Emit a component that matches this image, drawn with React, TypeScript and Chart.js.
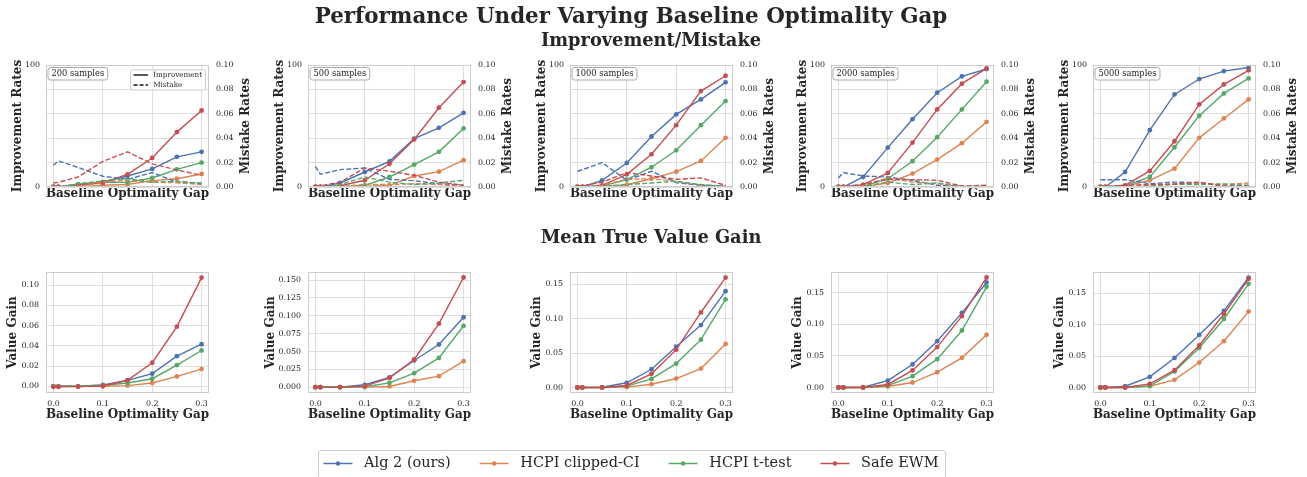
import React, { useEffect, useRef } from 'react';
import { Chart, registerables } from 'chart.js';

Chart.register(...registerables);

const FONT = "'DejaVu Serif', serif";
const INK = '#262626';
const GRID = '#dedede';
const FRAME = '#cccccc';

const figureTitle = 'Performance Under Varying Baseline Optimality Gap';
const topRowTitle = 'Improvement/Mistake';
const bottomRowTitle = 'Mean True Value Gain';
const xTitle = 'Baseline Optimality Gap';

const gaps = [0, 0.01, 0.05, 0.1, 0.15, 0.2, 0.25, 0.3];
const xTicks = [0, 0.1, 0.2, 0.3];
const xRange = [-0.015, 0.315];
const methods = ['Alg 2 (ours)', 'HCPI clipped-CI', 'HCPI t-test', 'Safe EWM'];
const colors = ['#4c72b0', '#dd8452', '#55a868', '#c44e52'];
const sampleLabels = ['200 samples', '500 samples', '1000 samples', '2000 samples', '5000 samples'];

// Improvement rates (%), rows: Alg 2, HCPI clipped-CI, HCPI t-test, Safe EWM
const improve200 = [
  [0, 0, 2, 4, 9, 14.8, 24.7, 28.8],
  [0, 0, 0.3, 1.4, 2, 5.2, 6.8, 10.7],
  [0, 0, 2.2, 4, 3.8, 7.4, 14.5, 20],
  [0, 0, 1.5, 3.5, 10.4, 23.8, 45, 62.7],
];
const improve500 = [
  [0, 0, 3.3, 12.3, 21, 39.7, 48.5, 60.8],
  [0, 0, 0, 0.5, 1.4, 9, 12.6, 22],
  [0, 0, 0.3, 1.4, 8.2, 18.4, 28.8, 48],
  [0, 0, 1, 5.5, 19, 39, 65, 86],
];
const improve1000 = [
  [0, 0, 5.5, 19.7, 41.4, 59.5, 71.8, 85.8],
  [0, 0, 0.3, 1.9, 6.8, 12.6, 21.4, 40.3],
  [0, 0, 0.8, 6, 16.2, 30.1, 50.7, 70.4],
  [0, 0, 1.4, 10.4, 26.8, 50.7, 78.6, 91.2],
];
const improve2000 = [
  [0, 0, 8.2, 32.3, 55.6, 77.3, 90.7, 96.7],
  [0, 0, 0.3, 3.3, 11, 22.5, 35.9, 53.4],
  [0, 0, 0.5, 6.8, 21.1, 40.8, 63.6, 86.3],
  [0, 0, 1.9, 11.5, 36.4, 63.6, 84.7, 97.3],
];
const improve5000 = [
  [0, 0, 12.3, 46.6, 75.9, 88.5, 95, 98],
  [0, 0, 0.5, 5.5, 15, 40.3, 56.2, 71.8],
  [0, 0, 0.8, 8.2, 32.6, 58.4, 76.7, 89],
  [0, 0, 1.4, 13.2, 37.5, 67.7, 84.1, 95.6],
];

// Mistake rates
const mistake200 = [
  [0.0178, 0.0214, 0.016, 0.0088, 0.0063, 0.0118, 0.004, 0.0033],
  [0, 0, 0.0005, 0.004, 0.0055, 0.004, 0.0035, 0.002],
  [0, 0, 0.0027, 0.005, 0.0068, 0.004, 0.0047, 0.0027],
  [0.0033, 0.0038, 0.0082, 0.021, 0.0288, 0.019, 0.014, 0.0096],
];
const mistake500 = [
  [0.017, 0.0104, 0.0142, 0.0156, 0.0063, 0.0052, 0.0027, 0.0014],
  [0, 0, 0.0005, 0.002, 0.002, 0.0027, 0.002, 0.0005],
  [0, 0, 0.002, 0.0082, 0.004, 0.002, 0.0033, 0.0055],
  [0.0008, 0.001, 0.004, 0.0156, 0.0129, 0.0096, 0.004, 0.0014],
];
const mistake1000 = [
  [0.0129, 0.0142, 0.02, 0.0055, 0.0129, 0.0036, 0.0014, 0.0008],
  [0, 0, 0.0014, 0.0063, 0.0068, 0.0047, 0.0014, 0.0005],
  [0, 0, 0.0005, 0.002, 0.0033, 0.0047, 0.002, 0.0005],
  [0.0005, 0.001, 0.004, 0.0118, 0.009, 0.0063, 0.0074, 0.0014],
];
const mistake2000 = [
  [0.0074, 0.0118, 0.009, 0.0082, 0.0055, 0.0014, 0.0005, 0.0005],
  [0, 0, 0.0014, 0.0074, 0.004, 0.0027, 0.0005, 0.0005],
  [0, 0, 0.0005, 0.004, 0.002, 0.0033, 0.0005, 0.0005],
  [0.0005, 0.0005, 0.002, 0.0063, 0.006, 0.0055, 0.0008, 0.0014],
];
const mistake5000 = [
  [0.006, 0.006, 0.006, 0.0027, 0.004, 0.0036, 0.0008, 0.0005],
  [0, 0, 0, 0.0014, 0.0027, 0.0027, 0.002, 0.0033],
  [0, 0, 0, 0.0008, 0.0022, 0.002, 0.0025, 0.0014],
  [0.0005, 0.0005, 0.0014, 0.002, 0.0022, 0.004, 0.0008, 0.0008],
];

// Mean true value gain
const gain200 = [
  [0, 0, 0, 0.0013, 0.0059, 0.0125, 0.0298, 0.0416],
  [0, 0, 0, 0, 0.0007, 0.0033, 0.0098, 0.017],
  [0, 0, 0, 0.001, 0.0033, 0.0075, 0.021, 0.0354],
  [-0.0005, -0.0005, -0.0003, 0.0003, 0.006, 0.0233, 0.059, 0.1075],
];
const gain500 = [
  [0, 0, 0, 0.0033, 0.0136, 0.0374, 0.0598, 0.098],
  [0, 0, 0, 0, 0.001, 0.0089, 0.0154, 0.0364],
  [0, 0, 0, 0.0005, 0.006, 0.0196, 0.041, 0.086],
  [0, 0, 0, 0.0014, 0.013, 0.0388, 0.089, 0.1537],
];
const gain1000 = [
  [0, 0, 0.0003, 0.0068, 0.0265, 0.0593, 0.0907, 0.14],
  [0, 0, 0, 0.0005, 0.0048, 0.013, 0.0275, 0.0632],
  [0, 0, 0, 0.002, 0.0125, 0.0347, 0.0695, 0.128],
  [0, 0, 0, 0.0029, 0.0198, 0.055, 0.109, 0.1597],
];
const gain2000 = [
  [0, 0, 0.0005, 0.011, 0.0365, 0.0734, 0.1183, 0.1664],
  [0, 0, 0, 0.0016, 0.0079, 0.0243, 0.047, 0.0835],
  [0, 0, 0, 0.003, 0.018, 0.0449, 0.0903, 0.1595],
  [0, 0, 0, 0.0048, 0.027, 0.064, 0.113, 0.1743],
];
const gain5000 = [
  [0, 0, 0.002, 0.017, 0.047, 0.0837, 0.122, 0.175],
  [0, 0, 0, 0.002, 0.0122, 0.0397, 0.0737, 0.1208],
  [0, 0, 0, 0.0026, 0.0254, 0.063, 0.109, 0.165],
  [0, 0, 0, 0.0058, 0.0276, 0.0668, 0.117, 0.173],
];

const improveRates = [improve200, improve500, improve1000, improve2000, improve5000];
const mistakeRates = [mistake200, mistake500, mistake1000, mistake2000, mistake5000];
const valueGains = [gain200, gain500, gain1000, gain2000, gain5000];

const improveTicks = [0, 100];
const mistakeTicks = [0, 0.02, 0.04, 0.06, 0.08, 0.1];
const gainMin = [-0.0066, -0.0082, -0.008, -0.0087, -0.00875];
const gainMax = [0.113, 0.1614, 0.1678, 0.183, 0.1838];
const gainTicks = [
  [0, 0.02, 0.04, 0.06, 0.08, 0.1],
  [0, 0.025, 0.05, 0.075, 0.1, 0.125, 0.15],
  [0, 0.05, 0.1, 0.15],
  [0, 0.05, 0.1, 0.15],
  [0, 0.05, 0.1, 0.15],
];
const gainDecimals = [2, 3, 2, 2, 2];

// layout (px)
const colLeft = [46, 308, 570, 831, 1093];
const PLOT_W = 163;
const TOP_Y = 65;
const TOP_H = 122;
const BOT_Y = 272;
const BOT_H = 121;
const T_LA = 40, T_RA = 46, T_XA = 15, T_PAD = 13;
const B_LA = [42, 46, 42, 42, 42];
const B_RPAD = 10, B_XA = 30, B_PAD = 13;

const tickFont = { family: FONT, size: 7.9 };
const titleFont = { family: FONT, size: 12, weight: 'bold' as const };

const framePlugin = {
  id: 'frame',
  afterDatasetsDraw(chart: any) {
    const { ctx, chartArea: a } = chart;
    ctx.save();
    ctx.strokeStyle = FRAME;
    ctx.lineWidth = 1;
    ctx.strokeRect(Math.round(a.left) + 0.5, Math.round(a.top) + 0.5, Math.round(a.right - a.left) - 1, Math.round(a.bottom - a.top) - 1);
    ctx.restore();
  },
};

function roundRect(ctx: CanvasRenderingContext2D, x: number, y: number, w: number, h: number, r: number) {
  ctx.beginPath();
  ctx.moveTo(x + r, y);
  ctx.lineTo(x + w - r, y);
  ctx.arcTo(x + w, y, x + w, y + r, r);
  ctx.lineTo(x + w, y + h - r);
  ctx.arcTo(x + w, y + h, x + w - r, y + h, r);
  ctx.lineTo(x + r, y + h);
  ctx.arcTo(x, y + h, x, y + h - r, r);
  ctx.lineTo(x, y + r);
  ctx.arcTo(x, y, x + r, y, r);
  ctx.closePath();
}

const topDecorPlugin = {
  id: 'topDecor',
  afterDraw(chart: any, _args: any, opts: any) {
    const { ctx, chartArea: a } = chart;
    ctx.save();
    // right axis title, reading bottom-to-top
    const s = chart.scales.y2;
    ctx.translate(s.left + 37, (a.top + a.bottom) / 2);
    ctx.rotate(-Math.PI / 2);
    ctx.font = `bold ${titleFont.size}px ${FONT}`;
    ctx.fillStyle = INK;
    ctx.textAlign = 'center';
    ctx.textBaseline = 'middle';
    ctx.fillText('Mistake Rates', 0, 0);
    ctx.restore();

    // sample size box
    ctx.save();
    ctx.font = `8.3px ${FONT}`;
    const tw = ctx.measureText(opts.sample).width;
    const bx = a.left + 1.5, by = a.top + 2, bw = tw + 7, bh = 12.5;
    roundRect(ctx, bx + 0.5, by + 0.5, bw, bh, 2.5);
    ctx.fillStyle = 'rgba(255,255,255,0.85)';
    ctx.fill();
    ctx.strokeStyle = '#aaaaaa';
    ctx.lineWidth = 1;
    ctx.stroke();
    ctx.fillStyle = INK;
    ctx.textBaseline = 'middle';
    ctx.textAlign = 'left';
    ctx.fillText(opts.sample, bx + 4, by + bh / 2 + 1);
    ctx.restore();

    if (opts.legend) {
      ctx.save();
      const f = 7.2;
      ctx.font = `${f}px ${FONT}`;
      const w1 = Math.max(ctx.measureText('Improvement').width, ctx.measureText('Mistake').width);
      const lw = 0.4 * f + 2 * f + 0.8 * f + w1 + 0.4 * f;
      const lh = 20;
      const lx = a.right - 4 - lw, ly = a.top + 4.5;
      roundRect(ctx, lx + 0.5, ly + 0.5, lw, lh, 2);
      ctx.fillStyle = 'rgba(255,255,255,0.85)';
      ctx.fill();
      ctx.strokeStyle = FRAME;
      ctx.stroke();
      const rows = [
        { t: 'Improvement', dash: [] as number[], y: ly + 5.5 },
        { t: 'Mistake', dash: [4, 2], y: ly + 15.5 },
      ];
      rows.forEach((r) => {
        ctx.strokeStyle = '#111111';
        ctx.lineWidth = 1.4;
        ctx.setLineDash(r.dash);
        ctx.beginPath();
        ctx.moveTo(lx + 0.4 * f + 0.5, r.y);
        ctx.lineTo(lx + 2.4 * f + 0.5, r.y);
        ctx.stroke();
        ctx.setLineDash([]);
        ctx.fillStyle = INK;
        ctx.textBaseline = 'middle';
        ctx.textAlign = 'left';
        ctx.fillText(r.t, lx + 3.2 * f, r.y);
      });
      ctx.restore();
    }
  },
};

function baseX(showLabels: boolean, height: number) {
  return {
    type: 'linear' as const,
    position: 'bottom' as const,
    min: xRange[0],
    max: xRange[1],
    afterBuildTicks: (s: any) => {
      s.ticks = xTicks.map((v) => ({ value: v }));
    },
    afterFit: (s: any) => {
      s.height = height;
    },
    ticks: {
      display: showLabels,
      font: tickFont,
      color: INK,
      padding: 6,
      maxRotation: 0,
      callback: (v: any) => Number(v).toFixed(1),
    },
    grid: { color: GRID, drawTicks: false, lineWidth: 1 },
    border: { display: false },
    title: { display: true, text: xTitle, font: titleFont, color: INK, padding: { top: 0, bottom: 1 } },
  };
}

function lineDataset(label: string, vals: number[], color: string, order: number, axis: string, dashed: boolean) {
  return {
    label,
    data: gaps.map((g, k) => ({ x: g, y: vals[k] })),
    borderColor: color,
    backgroundColor: color,
    borderWidth: 1.4,
    borderDash: dashed ? [5, 2.2] : [],
    pointRadius: dashed ? 0 : 2.4,
    pointHoverRadius: dashed ? 0 : 2.4,
    pointBorderWidth: 0,
    pointBackgroundColor: color,
    tension: 0,
    yAxisID: axis,
    order,
  };
}

function topConfig(i: number): any {
  const datasets: any[] = [];
  methods.forEach((m, j) => {
    datasets.push(lineDataset(m, improveRates[i][j], colors[j], 8 - j, 'y', false));
  });
  methods.forEach((m, j) => {
    datasets.push(lineDataset(m + ' mistake', mistakeRates[i][j], colors[j], 4 - j, 'y2', true));
  });
  return {
    type: 'line',
    data: { datasets },
    options: {
      responsive: false,
      animation: false,
      devicePixelRatio: 1,
      events: [],
      layout: { padding: { top: T_PAD, left: 0, right: 0, bottom: 0 } },
      plugins: {
        legend: { display: false },
        tooltip: { enabled: false },
        topDecor: { sample: sampleLabels[i], legend: i === 0 },
      },
      scales: {
        x: baseX(false, T_XA),
        y: {
          type: 'linear',
          position: 'left',
          min: 0,
          max: 100,
          afterBuildTicks: (s: any) => {
            s.ticks = improveTicks.map((v) => ({ value: v }));
          },
          afterFit: (s: any) => {
            s.width = T_LA;
          },
          ticks: { font: tickFont, color: INK, padding: 6, callback: (v: any) => String(v) },
          grid: { color: GRID, drawTicks: false },
          border: { display: false },
          title: { display: true, text: 'Improvement Rates', font: titleFont, color: INK, padding: { top: 4.5, bottom: 0 } },
        },
        y2: {
          type: 'linear',
          position: 'right',
          min: 0,
          max: 0.1,
          afterBuildTicks: (s: any) => {
            s.ticks = mistakeTicks.map((v) => ({ value: v }));
          },
          afterFit: (s: any) => {
            s.width = T_RA;
          },
          ticks: { font: tickFont, color: INK, padding: 7, callback: (v: any) => Number(v).toFixed(2) },
          grid: { color: GRID, drawTicks: false },
          border: { display: false },
        },
      },
    },
    plugins: [framePlugin, topDecorPlugin],
  };
}

function bottomConfig(i: number): any {
  const datasets = methods.map((m, j) => lineDataset(m, valueGains[i][j], colors[j], 4 - j, 'y', false));
  return {
    type: 'line',
    data: { datasets },
    options: {
      responsive: false,
      animation: false,
      devicePixelRatio: 1,
      events: [],
      layout: { padding: { top: B_PAD, left: 0, right: B_RPAD, bottom: 0 } },
      plugins: { legend: { display: false }, tooltip: { enabled: false } },
      scales: {
        x: baseX(true, B_XA),
        y: {
          type: 'linear',
          position: 'left',
          min: gainMin[i],
          max: gainMax[i],
          afterBuildTicks: (s: any) => {
            s.ticks = gainTicks[i].map((v) => ({ value: v }));
          },
          afterFit: (s: any) => {
            s.width = B_LA[i];
          },
          ticks: { font: tickFont, color: INK, padding: 7, callback: (v: any) => Number(v).toFixed(gainDecimals[i]) },
          grid: { color: GRID, drawTicks: false },
          border: { display: false },
          title: { display: true, text: 'Value Gain', font: titleFont, color: INK, padding: { top: 2, bottom: 0 } },
        },
      },
    },
    plugins: [framePlugin],
  };
}

const figurePlugin = {
  id: 'figureText',
  afterDraw(chart: any) {
    const ctx: CanvasRenderingContext2D = chart.ctx;
    ctx.save();
    ctx.fillStyle = INK;
    ctx.textAlign = 'center';
    ctx.textBaseline = 'middle';
    ctx.font = `bold 21.4px ${FONT}`;
    ctx.fillText(figureTitle, 631, 17);
    ctx.font = `bold 17.8px ${FONT}`;
    ctx.fillText(topRowTitle, 651, 41);
    ctx.fillText(bottomRowTitle, 651, 238);

    // figure legend
    const f = 14.5;
    ctx.font = `${f}px ${FONT}`;
    const tw = methods.map((m) => ctx.measureText(m).width);
    const total = 0.8 * f + tw.reduce((a, b) => a + b, 0) + 4 * 2.8 * f + 3 * 2 * f;
    const bx = 631 - total / 2;
    const by = 450;
    const bh = 29;
    roundRect(ctx, Math.round(bx) + 0.5, by + 0.5, Math.round(total), bh, 3);
    ctx.fillStyle = 'rgba(255,255,255,0.9)';
    ctx.fill();
    ctx.strokeStyle = FRAME;
    ctx.lineWidth = 1;
    ctx.stroke();
    let x = bx + 0.4 * f;
    const cy = by + 13.5;
    methods.forEach((m, j) => {
      ctx.strokeStyle = colors[j];
      ctx.lineWidth = 1.5;
      ctx.beginPath();
      ctx.moveTo(x, cy);
      ctx.lineTo(x + 2 * f, cy);
      ctx.stroke();
      ctx.fillStyle = colors[j];
      ctx.beginPath();
      ctx.arc(x + f, cy, 2.2, 0, Math.PI * 2);
      ctx.fill();
      ctx.fillStyle = INK;
      ctx.textAlign = 'left';
      ctx.fillText(m, x + 2.8 * f, cy);
      x += 2.8 * f + tw[j] + 2 * f;
    });
    ctx.restore();
  },
};

function bgConfig(): any {
  return {
    type: 'line',
    data: { labels: [], datasets: [] },
    options: {
      responsive: false,
      animation: false,
      devicePixelRatio: 1,
      events: [],
      plugins: { legend: { display: false }, tooltip: { enabled: false } },
      scales: { x: { display: false }, y: { display: false } },
    },
    plugins: [figurePlugin],
  };
}

export default function App() {
  const bgRef = useRef<HTMLCanvasElement | null>(null);
  const topRefs = useRef<(HTMLCanvasElement | null)[]>([]);
  const botRefs = useRef<(HTMLCanvasElement | null)[]>([]);

  useEffect(() => {
    const charts: Chart[] = [];
    if (bgRef.current) charts.push(new Chart(bgRef.current, bgConfig()));
    for (let i = 0; i < 5; i++) {
      const t = topRefs.current[i];
      const b = botRefs.current[i];
      if (t) charts.push(new Chart(t, topConfig(i)));
      if (b) charts.push(new Chart(b, bottomConfig(i)));
    }
    return () => charts.forEach((c) => c.destroy());
  }, []);

  const topW = T_LA + PLOT_W + T_RA;
  const topH = T_PAD + TOP_H + T_XA;
  const botH = B_PAD + BOT_H + B_XA;

  return (
    <div style={{ position: 'absolute', left: 0, top: 0, width: 1307, height: 477, background: '#ffffff', overflow: 'hidden' }}>
      <canvas ref={bgRef} width={1307} height={477} style={{ position: 'absolute', left: 0, top: 0, width: 1307, height: 477 }} />
      {colLeft.map((cl, i) => (
        <canvas
          key={'t' + i}
          ref={(el) => {
            topRefs.current[i] = el;
          }}
          width={topW}
          height={topH}
          style={{ position: 'absolute', left: cl - T_LA, top: TOP_Y - T_PAD, width: topW, height: topH }}
        />
      ))}
      {colLeft.map((cl, i) => {
        const botW = B_LA[i] + PLOT_W + B_RPAD;
        return (
          <canvas
            key={'b' + i}
            ref={(el) => {
              botRefs.current[i] = el;
            }}
            width={botW}
            height={botH}
            style={{ position: 'absolute', left: cl - B_LA[i], top: BOT_Y - B_PAD, width: botW, height: botH }}
          />
        );
      })}
    </div>
  );
}
